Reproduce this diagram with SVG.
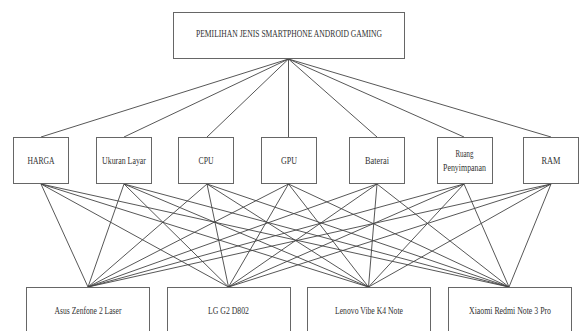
<svg xmlns="http://www.w3.org/2000/svg" width="580" height="331" viewBox="0 0 580 331">
<style>
.box{fill:#fff;stroke:#666;stroke-width:1}
.ln{stroke:#444;stroke-width:0.9;fill:none}
text{font-family:"Liberation Serif","Times New Roman",serif;font-size:10px;fill:#333;text-anchor:middle}
</style>
<rect width="580" height="331" fill="#fff"/>
<g id="connectors">
<line class="ln" x1="288.5" y1="59" x2="41" y2="137"/>
<line class="ln" x1="288.5" y1="59" x2="124" y2="137"/>
<line class="ln" x1="288.5" y1="59" x2="207" y2="137"/>
<line class="ln" x1="288.5" y1="59" x2="288.5" y2="137"/>
<line class="ln" x1="288.5" y1="59" x2="377" y2="137"/>
<line class="ln" x1="288.5" y1="59" x2="464" y2="137"/>
<line class="ln" x1="288.5" y1="59" x2="551" y2="137"/>
<g>
<line class="ln" x1="41" y1="184" x2="88" y2="287"/>
<line class="ln" x1="41" y1="184" x2="228.5" y2="287"/>
<line class="ln" x1="41" y1="184" x2="368.5" y2="287"/>
<line class="ln" x1="41" y1="184" x2="509" y2="287"/>
<line class="ln" x1="124" y1="184" x2="88" y2="287"/>
<line class="ln" x1="124" y1="184" x2="228.5" y2="287"/>
<line class="ln" x1="124" y1="184" x2="368.5" y2="287"/>
<line class="ln" x1="124" y1="184" x2="509" y2="287"/>
<line class="ln" x1="207" y1="184" x2="88" y2="287"/>
<line class="ln" x1="207" y1="184" x2="228.5" y2="287"/>
<line class="ln" x1="207" y1="184" x2="368.5" y2="287"/>
<line class="ln" x1="207" y1="184" x2="509" y2="287"/>
<line class="ln" x1="288.5" y1="184" x2="88" y2="287"/>
<line class="ln" x1="288.5" y1="184" x2="228.5" y2="287"/>
<line class="ln" x1="288.5" y1="184" x2="368.5" y2="287"/>
<line class="ln" x1="288.5" y1="184" x2="509" y2="287"/>
<line class="ln" x1="377" y1="184" x2="88" y2="287"/>
<line class="ln" x1="377" y1="184" x2="228.5" y2="287"/>
<line class="ln" x1="377" y1="184" x2="368.5" y2="287"/>
<line class="ln" x1="377" y1="184" x2="509" y2="287"/>
<line class="ln" x1="464" y1="184" x2="88" y2="287"/>
<line class="ln" x1="464" y1="184" x2="228.5" y2="287"/>
<line class="ln" x1="464" y1="184" x2="368.5" y2="287"/>
<line class="ln" x1="464" y1="184" x2="509" y2="287"/>
<line class="ln" x1="551" y1="184" x2="88" y2="287"/>
<line class="ln" x1="551" y1="184" x2="228.5" y2="287"/>
<line class="ln" x1="551" y1="184" x2="368.5" y2="287"/>
<line class="ln" x1="551" y1="184" x2="509" y2="287"/>
</g>
</g>
<g id="goal">
<rect class="box" x="173.5" y="12.5" width="231" height="46"/>
<text x="289" y="37" textLength="186" lengthAdjust="spacingAndGlyphs">PEMILIHAN JENIS SMARTPHONE ANDROID GAMING</text>
</g>
<g id="harga">
<rect class="box" x="13.5" y="137.5" width="55" height="46"/>
<text x="41" y="164" textLength="27" lengthAdjust="spacingAndGlyphs">HARGA</text>
</g>
<g id="ukuran">
<rect class="box" x="96.5" y="137.5" width="55" height="46"/>
<text x="124" y="164" textLength="44" lengthAdjust="spacingAndGlyphs">Ukuran Layar</text>
</g>
<g id="cpu">
<rect class="box" x="178.5" y="137.5" width="55" height="46"/>
<text x="206" y="164" textLength="15" lengthAdjust="spacingAndGlyphs">CPU</text>
</g>
<g id="gpu">
<rect class="box" x="261.5" y="137.5" width="55" height="46"/>
<text x="289" y="164" textLength="16" lengthAdjust="spacingAndGlyphs">GPU</text>
</g>
<g id="baterai">
<rect class="box" x="349.5" y="137.5" width="55" height="46"/>
<text x="377" y="164" textLength="24" lengthAdjust="spacingAndGlyphs">Baterai</text>
</g>
<g id="ruang">
<rect class="box" x="437.5" y="137.5" width="55" height="46"/>
<text x="464.5" y="157" textLength="18" lengthAdjust="spacingAndGlyphs">Ruang</text>
<text x="464.5" y="171" textLength="43" lengthAdjust="spacingAndGlyphs">Penyimpanan</text>
</g>
<g id="ram">
<rect class="box" x="523.5" y="137.5" width="55" height="46"/>
<text x="551" y="164" textLength="19" lengthAdjust="spacingAndGlyphs">RAM</text>
</g>
<g id="asus">
<rect class="box" x="26.5" y="287.5" width="123" height="50"/>
<text x="88" y="314" textLength="67" lengthAdjust="spacingAndGlyphs">Asus Zenfone 2 Laser</text>
</g>
<g id="lg">
<rect class="box" x="167.5" y="287.5" width="123" height="50"/>
<text x="228.5" y="314" textLength="41" lengthAdjust="spacingAndGlyphs">LG G2 D802</text>
</g>
<g id="lenovo">
<rect class="box" x="307.5" y="287.5" width="123" height="50"/>
<text x="369" y="314" textLength="68" lengthAdjust="spacingAndGlyphs">Lenovo Vibe K4 Note</text>
</g>
<g id="xiaomi">
<rect class="box" x="448.5" y="287.5" width="123" height="50"/>
<text x="510" y="314" textLength="82" lengthAdjust="spacingAndGlyphs">Xiaomi Redmi Note 3 Pro</text>
</g>
</svg>
